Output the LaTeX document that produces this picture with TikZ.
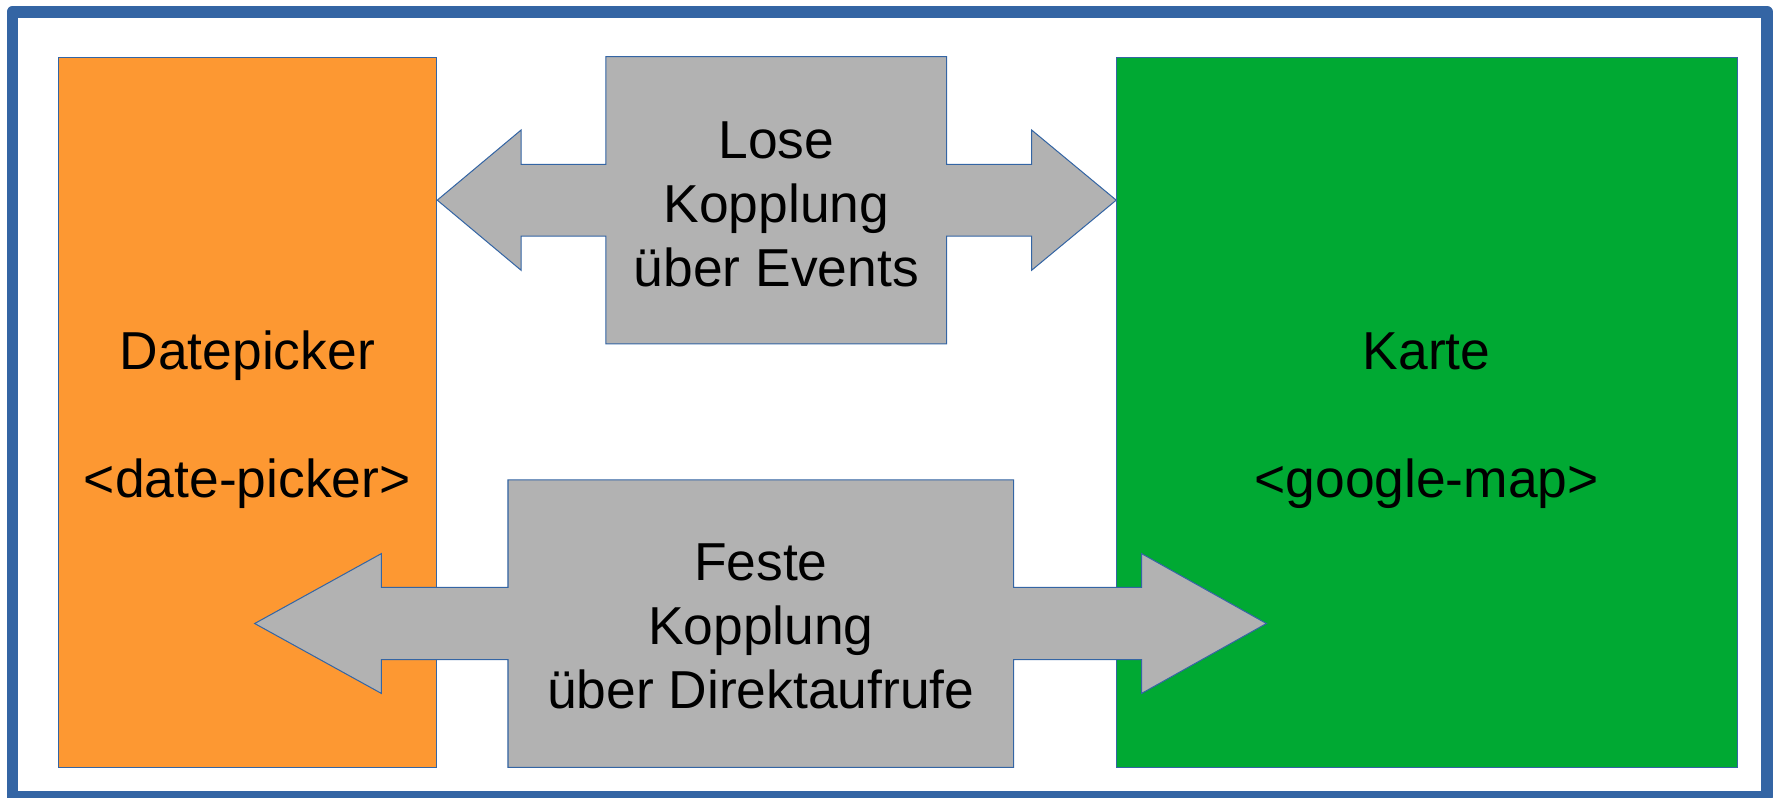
\documentclass[tikz,border=0pt]{standalone}
\usepackage{fontspec}
\setmainfont{Liberation Sans}
\definecolor{frameblue}{HTML}{3465A4}
\definecolor{boxorange}{RGB}{253,152,50}
\definecolor{boxgreen}{HTML}{00A933}
\definecolor{arrowgray}{HTML}{B2B2B2}
\begin{document}
\begin{tikzpicture}[x=1pt,y=-1pt,
  outline/.style={draw=frameblue,line width=0.9pt,line join=miter},
  lbl/.style={anchor=base,inner sep=0pt,font=\fontsize{47.2}{56.5}\selectfont},
  frame/.style={draw=frameblue,line width=10.5pt,line join=round}]
\useasboundingbox (0,0) rectangle (1568,705);
\draw[frame] (11,10.5) rectangle (1562,704);
% boxes
\node[outline,fill=boxorange,anchor=north west,minimum width=334.2pt,minimum height=628.1pt,inner sep=0pt] (dp) at (51.4,50.1) {};
\node[outline,fill=boxgreen,anchor=north west,minimum width=548.7pt,minimum height=628.1pt,inner sep=0pt] (km) at (986.6,50.1) {};
% top double arrow (loose coupling)
\draw[outline,fill=arrowgray] (dp.east |- 0,176.9) coordinate (tl)
  -- (460.6,114.9) -- (460.6,145.3) -- (535.6,145.3) -- (535.6,50.1)
  -- (836.7,50.1) -- (836.7,145.3) -- (911.8,145.3) -- (911.8,114.9)
  -- (km.west |- 0,176.9) coordinate (tr)
  -- (911.8,238.9) -- (911.8,208.6) -- (836.7,208.6) -- (836.7,304)
  -- (535.6,304) -- (535.6,208.6) -- (460.6,208.6) -- (460.6,238.9) -- cycle;
% bottom double arrow (tight coupling)
\draw[outline,fill=arrowgray] (225.1,551.1) coordinate (bl)
  -- (337.1,489.3) -- (337.1,519.2) -- (449,519.2) -- (449,424.2)
  -- (896,424.2) -- (896,519.2) -- (1009,519.2) -- (1009,489.3)
  -- (1119.4,551.1) coordinate (br)
  -- (1009,612.9) -- (1009,583) -- (896,583) -- (896,678.2)
  -- (449,678.2) -- (449,583) -- (337.1,583) -- (337.1,612.9) -- cycle;
% labels
\node[lbl] (dptext) at (218.5,327) {\begin{tabular}[t]{@{}c@{}}Datepicker\\ \\ <date-picker>\end{tabular}};
\node[lbl] (kmtext) at (1261,327) {\begin{tabular}[t]{@{}c@{}}Karte\\ \\ <google-map>\end{tabular}};
\node[lbl] (lose) at (686.2,140) {\begin{tabular}[t]{@{}c@{}}Lose\\ Kopplung\\ über Events\end{tabular}};
\node[lbl] (feste) at (672.5,513.5) {\begin{tabular}[t]{@{}c@{}}Feste\\ Kopplung\\ über Direktaufrufe\end{tabular}};
\end{tikzpicture}
\end{document}
